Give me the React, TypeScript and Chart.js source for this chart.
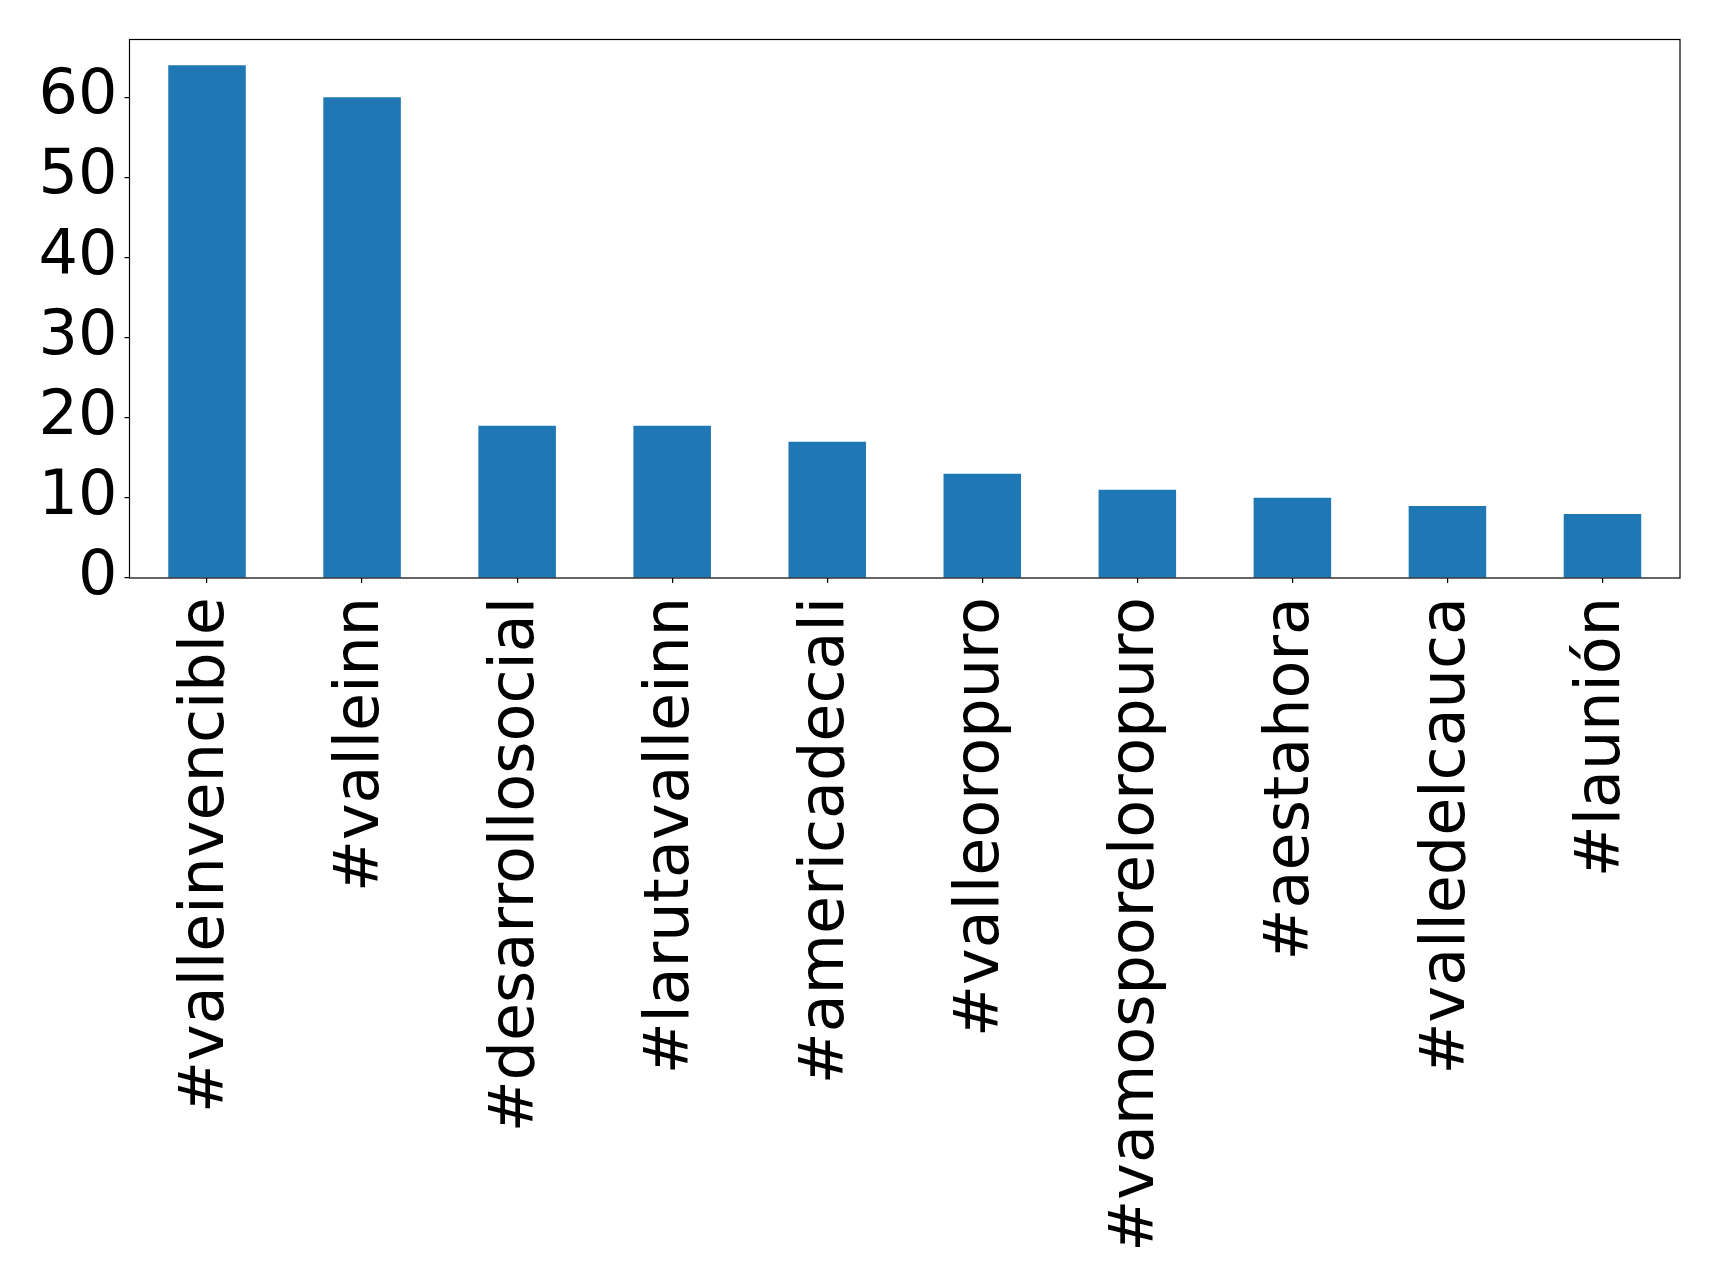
import React, { useEffect, useRef } from "react";
import { Chart, registerables } from "chart.js";

Chart.register(...registerables);

const categories = [
  "#valleinvencible",
  "#valleinn",
  "#desarrollosocial",
  "#larutavalleinn",
  "#americadecali",
  "#valleoropuro",
  "#vamosporeloropuro",
  "#aestahora",
  "#valledelcauca",
  "#launión",
];
const counts = [64, 60, 19, 19, 17, 13, 11, 10, 9, 8];
const yTicks = [0, 10, 20, 30, 40, 50, 60];

const W = 1719;
const H = 1288;
const FONT = "'DejaVu Sans', sans-serif";

const framePlugin = {
  id: "frame",
  afterDatasetsDraw(chart: any) {
    const { ctx, chartArea } = chart;
    ctx.save();
    ctx.strokeStyle = "#000";
    ctx.lineWidth = 1.2;
    ctx.strokeRect(
      chartArea.left,
      chartArea.top,
      chartArea.right - chartArea.left,
      chartArea.bottom - chartArea.top
    );
    ctx.restore();
  },
};

export default function App() {
  const ref = useRef<HTMLCanvasElement | null>(null);
  useEffect(() => {
    if (!ref.current) return;
    const chart = new Chart(ref.current, {
      type: "bar",
      data: {
        labels: categories,
        datasets: [
          {
            data: counts,
            backgroundColor: "#1f77b4",
            borderWidth: 0,
            categoryPercentage: 1,
            barPercentage: 0.5,
          },
        ],
      },
      options: {
        animation: false,
        responsive: false,
        devicePixelRatio: 1,
        layout: { padding: { top: 39.5, right: 39, left: 0, bottom: 0 } },
        plugins: { legend: { display: false }, tooltip: { enabled: false } },
        scales: {
          x: {
            grid: {
              offset: false,
              drawOnChartArea: false,
              drawTicks: true,
              tickLength: 5,
              color: "#000",
              lineWidth: 1.2,
            },
            border: { display: false },
            ticks: {
              color: "#000",
              font: { family: FONT, size: 62 },
              minRotation: 90,
              maxRotation: 90,
              autoSkip: false,
              padding: 14,
            },
            afterFit(scale: any) {
              scale.height = H - 578;
              scale.paddingLeft = 0;
              scale.paddingRight = 0;
            },
          },
          y: {
            min: 0,
            max: 67.2,
            grid: {
              drawOnChartArea: false,
              drawTicks: true,
              tickLength: 5,
              color: "#000",
              lineWidth: 1.2,
            },
            border: { display: false },
            afterBuildTicks(scale: any) {
              scale.ticks = yTicks.map((v) => ({ value: v }));
            },
            ticks: {
              color: "#000",
              font: { family: FONT, size: 62 },
              padding: 7,
            },
            afterFit(scale: any) {
              scale.width = 129.5;
              scale.paddingTop = 0;
              scale.paddingBottom = 0;
            },
          },
        },
      },
      plugins: [framePlugin],
    });
    return () => chart.destroy();
  }, []);
  return (
    <div style={{ position: "absolute", left: 0, top: 0, width: W, height: H, background: "#fff" }}>
      <canvas ref={ref} width={W} height={H} style={{ width: W, height: H }} />
    </div>
  );
}
